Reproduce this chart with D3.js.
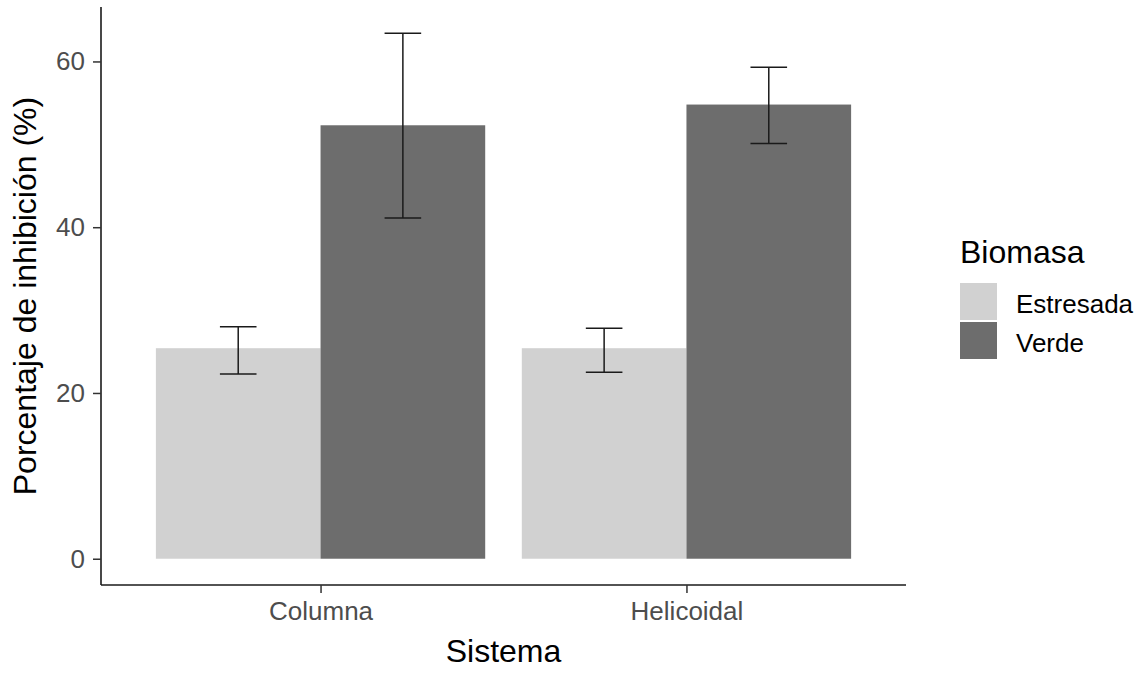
<!DOCTYPE html>
<html>
<head>
<meta charset="utf-8">
<script src="https://cdn.jsdelivr.net/npm/d3@7"></script>
<style>
  body { margin: 0; background: #fff; }
  text { font-family: "Liberation Sans", Arial, sans-serif; }
</style>
</head>
<body>
<div id="chart"></div>
<script>
// data
var sistemas = ["Columna", "Helicoidal"];
var biomasas = ["Estresada", "Verde"];
var medias   = [[25.4, 52.3], [25.4, 54.8]];   // [sistema][biomasa]
var errLow   = [[22.3, 41.1], [22.5, 50.1]];
var errHigh  = [[28.0, 63.4], [27.8, 59.3]];
var yTicks   = [0, 20, 40, 60];
var colores  = ["#d1d1d1", "#6d6d6d"];

function init(){
    var W = 1148, H = 674;
    var left = 101, right = 906, top = 7, bottom = 585; // plot panel

    var svg = d3.select("#chart").append("svg")
        .attr("width", W).attr("height", H);

    // ggplot style discrete axis: positions 1..n, expand 0.6
    var xScale = d3.scaleLinear()
        .domain([0.4, sistemas.length + 0.6])
        .range([left, right]);

    var maxY = d3.max(errHigh, function(d){ return d3.max(d); });
    var yScale = d3.scaleLinear()
        .domain([-maxY * 0.05, maxY * 1.05])
        .range([bottom, top]);

    var barW = 0.9; // total dodge width
    var rows = [];
    sistemas.forEach(function(s, i){
        biomasas.forEach(function(b, j){
            rows.push({ s: s, i: i, j: j, v: medias[i][j], lo: errLow[i][j], hi: errHigh[i][j] });
        });
    });
    function xLeft(d){ return xScale(d.i + 1 - barW / 2 + d.j * barW / 2); }
    function xMid(d){ return xScale(d.i + 1 - barW / 2 + (d.j + 0.5) * barW / 2); }

    svg.selectAll("rect.bar").data(rows).enter().append("rect")
        .attr("class", "bar")
        .attr("x", xLeft)
        .attr("width", function(d){ return xScale(barW / 2) - xScale(0); })
        .attr("y", function(d){ return yScale(d.v); })
        .attr("height", function(d){ return yScale(0) - yScale(d.v); })
        .attr("fill", function(d){ return colores[d.j]; });

    // error bars
    var capHalf = (xScale(0.1) - xScale(0)) / 2;
    var eb = svg.selectAll("g.err").data(rows).enter().append("g")
        .attr("stroke", "#1a1a1a").attr("stroke-width", 1.5);
    eb.append("line")
        .attr("x1", xMid).attr("x2", xMid)
        .attr("y1", function(d){ return yScale(d.lo); })
        .attr("y2", function(d){ return yScale(d.hi); });
    eb.append("line")
        .attr("x1", function(d){ return xMid(d) - capHalf; })
        .attr("x2", function(d){ return xMid(d) + capHalf; })
        .attr("y1", function(d){ return yScale(d.hi); })
        .attr("y2", function(d){ return yScale(d.hi); });
    eb.append("line")
        .attr("x1", function(d){ return xMid(d) - capHalf; })
        .attr("x2", function(d){ return xMid(d) + capHalf; })
        .attr("y1", function(d){ return yScale(d.lo); })
        .attr("y2", function(d){ return yScale(d.lo); });

    // axes
    var yAxis = d3.axisLeft(yScale).tickValues(yTicks).tickSize(8).tickPadding(8);
    var gy = svg.append("g").attr("transform", "translate(" + left + ",0)").call(yAxis);
    gy.select(".domain").attr("d", "M0," + top + "V" + bottom);

    var xAxis = d3.axisBottom(xScale)
        .tickValues(sistemas.map(function(s, i){ return i + 1; }))
        .tickFormat(function(v){ return sistemas[v - 1]; })
        .tickSize(8).tickPadding(9);
    var gx = svg.append("g").attr("transform", "translate(0," + bottom + ")").call(xAxis);
    gx.select(".domain").attr("d", "M" + left + ",0H" + right);

    [gx, gy].forEach(function(g){
        g.select(".domain").attr("stroke", "#1a1a1a").attr("stroke-width", 1.6);
        g.selectAll(".tick line").attr("stroke", "#333").attr("stroke-width", 1.5);
        g.selectAll(".tick text").attr("fill", "#4d4d4d").style("font-size", "26px")
            .style("font-family", "'Liberation Sans', Arial, sans-serif");
    });

    // axis titles
    svg.append("text")
        .attr("x", (left + right) / 2).attr("y", 662)
        .attr("text-anchor", "middle").style("font-size", "32px").attr("fill", "#000")
        .text("Sistema");
    svg.append("text")
        .attr("transform", "translate(36," + (top + bottom) / 2 + ") rotate(-90)")
        .attr("text-anchor", "middle").style("font-size", "32px").attr("fill", "#000")
        .text("Porcentaje de inhibición (%)");

    // legend
    var lg = svg.append("g").attr("transform", "translate(960,0)");
    lg.append("text").attr("x", 0).attr("y", 263)
        .style("font-size", "32px").attr("fill", "#000").text("Biomasa");
    biomasas.forEach(function(b, j){
        var y0 = 283 + j * 39;
        lg.append("rect").attr("x", 0).attr("y", y0).attr("width", 37).attr("height", 37)
            .attr("fill", colores[j]);
        lg.append("text").attr("x", 56).attr("y", y0 + 30)
            .style("font-size", "26px").attr("fill", "#000").text(b);
    });
}
window.onload = init;
</script>
</body>
</html>
